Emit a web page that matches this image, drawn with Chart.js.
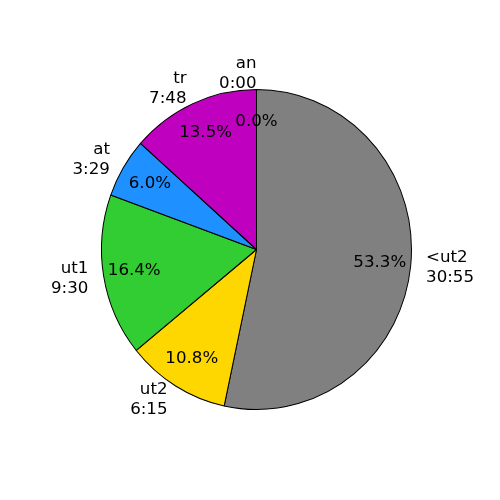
<!DOCTYPE html>
<html>
<head>
<meta charset="utf-8">
<script src="https://cdn.jsdelivr.net/npm/chart.js@4.4.0/dist/chart.umd.min.js"></script>
<style>
  body { margin: 0; background: #fff; }
  canvas { display: block; }
</style>
</head>
<body>
<canvas id="pie" width="500" height="500"></canvas>
<script>
// slices in clockwise order from the top
const categories = ['<ut2', 'ut2', 'ut1', 'at', 'tr', 'an'];
const durations = ['30:55', '6:15', '9:30', '3:29', '7:48', '0:00'];
const seconds = [1854.5, 375, 570, 209, 468, 0];
const colors = ['#808080', '#ffd700', '#32cd32', '#1e90ff', '#bf00bf', '#1f77b4'];

const FONT = '16.67px "DejaVu Sans"';
const squash = 160 / 155; // pie is slightly taller than wide

const ovalPlugin = {
    id: 'oval',
    beforeDatasetsDraw(chart) {
        const arc = chart.getDatasetMeta(0).data[0];
        const ctx = chart.ctx;
        ctx.save();
        ctx.translate(arc.x, arc.y);
        ctx.scale(1, squash);
        ctx.translate(-arc.x, -arc.y);
    },
    afterDatasetsDraw(chart) {
        chart.ctx.restore();
    }
};

const labelPlugin = {
    id: 'pieLabels',
    afterDraw(chart) {
        const ctx = chart.ctx;
        const arcs = chart.getDatasetMeta(0).data;
        const total = seconds.reduce((a, b) => a + b, 0);
        ctx.save();
        ctx.font = FONT;
        ctx.fillStyle = 'black';
        ctx.textBaseline = 'middle';
        const lh = 16.67 * 1.2;
        arcs.forEach((arc, i) => {
            const mid = (arc.startAngle + arc.endAngle) / 2;
            const rx = arc.outerRadius;
            const ry = arc.outerRadius * squash;
            const c = Math.cos(mid), s = Math.sin(mid);

            // percentage inside
            const pct = (seconds[i] / total * 100).toFixed(1) + '%';
            ctx.textAlign = 'center';
            ctx.fillText(pct, arc.x + 0.8 * rx * c, arc.y + 0.8 * ry * s);

            // name and time outside
            const lx = arc.x + 1.1 * rx * c;
            const ly = arc.y + 1.1 * ry * s;
            ctx.textAlign = c > 0 ? 'left' : 'right';
            ctx.fillText(categories[i], lx, ly - lh / 2);
            ctx.fillText(durations[i], lx, ly + lh / 2);
        });
        ctx.restore();
    }
};

new Chart(document.getElementById('pie'), {
    type: 'pie',
    data: {
        labels: categories,
        datasets: [{
            data: seconds,
            backgroundColor: colors,
            borderColor: 'black',
            borderWidth: 1
        }]
    },
    options: {
        responsive: false,
        animation: false,
        layout: {
            padding: { left: 101, right: 88, top: 94, bottom: 95 }
        },
        plugins: {
            legend: { display: false },
            tooltip: { enabled: false }
        }
    },
    plugins: [ovalPlugin, labelPlugin]
});
</script>
</body>
</html>
